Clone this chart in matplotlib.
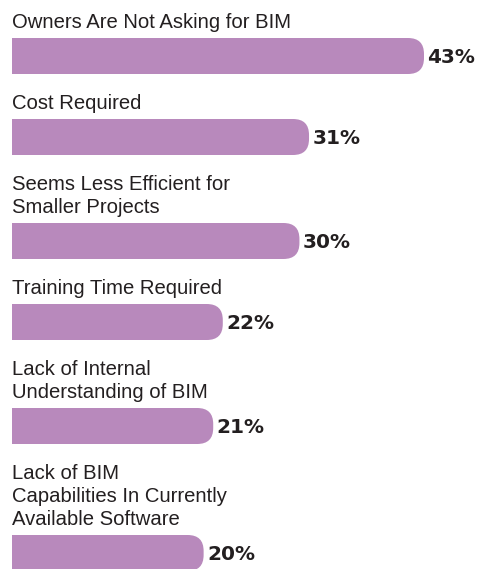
import matplotlib.pyplot as plt
from matplotlib.patches import FancyBboxPatch, Rectangle

labels = [
    "Owners Are Not Asking for BIM",
    "Cost Required",
    "Seems Less Efficient for\nSmaller Projects",
    "Training Time Required",
    "Lack of Internal\nUnderstanding of BIM",
    "Lack of BIM\nCapabilities In Currently\nAvailable Software",
]
values = [43, 31, 30, 22, 21, 20]

bar_color = "#B889BC"
text_color = "#231F20"

W, H = 481, 569
px_per_pct = 412 / 43      # horizontal scale, pixels per percent
left_px = 12
line_h = 23                # label line spacing (px)
bar_h = 36
radius = 16

fig = plt.figure(figsize=(W / 100, H / 100), dpi=100)
ax = fig.add_axes([0, 0, 1, 1])
ax.set_xlim(-left_px / px_per_pct, (W - left_px) / px_per_pct)
ax.set_ylim(H, 0)
ax.axis("off")

y = 0
for lab, val in zip(labels, values):
    lines = lab.split("\n")
    base = y + 28
    for k, ln in enumerate(lines):
        ax.text(0, base + k * line_h, ln, ha="left", va="baseline",
                fontsize=14.6, color=text_color,
                family=["Liberation Sans", "DejaVu Sans"])
    top = base + (len(lines) - 1) * line_h + 10
    r = radius / px_per_pct
    ax.add_patch(FancyBboxPatch((0, top), val, bar_h,
                                boxstyle=f"round,pad=0,rounding_size={r}",
                                mutation_aspect=px_per_pct,
                                fc=bar_color, ec="none"))
    ax.add_patch(Rectangle((0, top), val / 2, bar_h, fc=bar_color, ec="none"))
    ax.text(val + 0.35, top + bar_h / 2 + 1, f"{val}%", ha="left", va="center",
            fontsize=14.4, fontweight="bold", color=text_color,
            family="DejaVu Sans")
    y = top + bar_h + 7

fig.savefig("out.png", dpi=100)
